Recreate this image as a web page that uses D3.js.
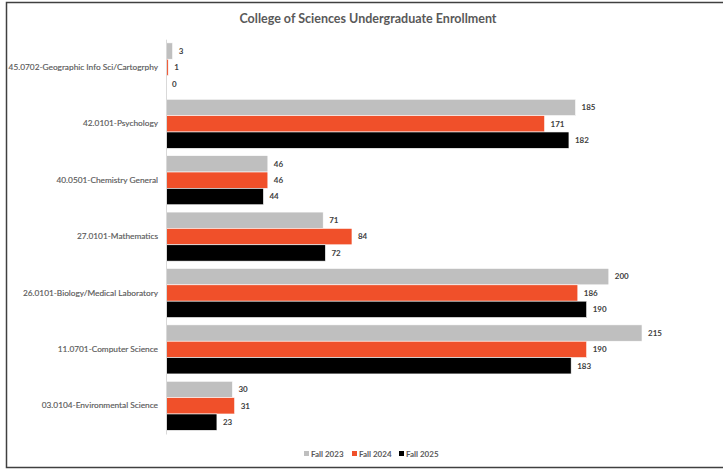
<!DOCTYPE html>
<html>
<head>
<meta charset="utf-8">
<script src="https://cdn.jsdelivr.net/npm/d3@7"></script>
<style>
  body { margin: 0; background: #fff; }
  text { font-family: Lato, "Open Sans", sans-serif; }
</style>
</head>
<body>
<div id="chart"></div>
<script>
var categories = [
  '45.0702-Geographic Info Sci/Cartogrphy',
  '42.0101-Psychology',
  '40.0501-Chemistry General',
  '27.0101-Mathematics',
  '26.0101-Biology/Medical Laboratory',
  '11.0701-Computer Science',
  '03.0104-Environmental Science'
];
var seriesNames = ['Fall 2023', 'Fall 2024', 'Fall 2025'];
var fall2023 = [3, 185, 46, 71, 200, 215, 30];
var fall2024 = [1, 171, 46, 84, 186, 190, 31];
var fall2025 = [0, 182, 44, 72, 190, 183, 23];
var colors = ['#bfbfbf', '#f0502a', '#000000'];

var WIDTH = 723;
var HEIGHT = 470;
var LEFT = 166;

var seriesValues = [fall2023, fall2024, fall2025];

var svg = d3.select('#chart')
  .append('svg')
    .attr('width', WIDTH)
    .attr('height', HEIGHT);

// frame (no right edge in the picture)
svg.append('path')
  .attr('d', 'M' + (WIDTH + 2) + ',2.5 H6.5 V467.5 H' + (WIDTH + 2))
  .attr('fill', 'none')
  .attr('stroke', '#404040')
  .attr('stroke-width', 1.5);

svg.append('text')
  .attr('x', 368)
  .attr('y', 23)
  .attr('text-anchor', 'middle')
  .attr('font-size', 12.5)
  .attr('font-weight', 'bold')
  .attr('fill', '#595959')
  .text('College of Sciences Undergraduate Enrollment');

var x = d3.scaleLinear()
  .domain([0, 250])
  .range([LEFT, LEFT + 553.5]);

var y = d3.scaleBand()
  .domain(categories)
  .range([39.2, 434])
  .paddingInner(0.13)
  .paddingOuter(0.065);

var ySub = d3.scaleBand()
  .domain(seriesNames)
  .range([0, y.bandwidth()]);

var groups = svg.selectAll('g.cat')
  .data(categories)
  .enter().append('g')
    .attr('class', 'cat')
    .attr('transform', function(d) { return 'translate(0,' + y(d) + ')'; });

seriesNames.forEach(function(name, si) {
  groups.append('rect')
    .attr('x', x(0))
    .attr('y', ySub(name))
    .attr('width', function(d, i) { return x(seriesValues[si][i]) - x(0); })
    .attr('height', ySub.bandwidth())
    .attr('fill', colors[si])
    .attr('stroke', '#fff')
    .attr('stroke-width', 0.6);

  groups.append('text')
    .attr('x', function(d, i) { return x(seriesValues[si][i]) + 6; })
    .attr('y', ySub(name) + ySub.bandwidth() / 2)
    .attr('dy', '0.35em')
    .attr('font-size', 8)
    .attr('font-weight', 'bold')
    .attr('fill', '#404040')
    .text(function(d, i) { return seriesValues[si][i]; });
});

var yAxis = d3.axisLeft(y).tickSize(0).tickPadding(8);
var gy = svg.append('g')
  .attr('class', 'y axis')
  .attr('transform', 'translate(' + LEFT + ',0)')
  .call(yAxis);
gy.select('.domain').attr('stroke', '#d9d9d9').attr('stroke-width', 1);
gy.selectAll('text')
  .attr('font-size', 8.3)
  .attr('fill', '#595959')
  .attr('stroke', '#595959')
  .attr('stroke-width', 0.15)
  .style('font-family', 'Lato, sans-serif');

// legend
var legendX = [304, 352, 399];
var legend = svg.selectAll('g.legend')
  .data(seriesNames)
  .enter().append('g')
    .attr('class', 'legend')
    .attr('transform', function(d, i) { return 'translate(' + legendX[i] + ',454)'; });
legend.append('rect')
  .attr('x', 0).attr('y', -3)
  .attr('width', 5).attr('height', 5)
  .attr('fill', function(d, i) { return colors[i]; });
legend.append('text')
  .attr('x', 7)
  .attr('y', 0)
  .attr('dy', '0.35em')
  .attr('font-size', 8)
  .attr('font-weight', 'bold')
  .attr('fill', '#595959')
  .text(function(d) { return d; });
</script>
</body>
</html>
